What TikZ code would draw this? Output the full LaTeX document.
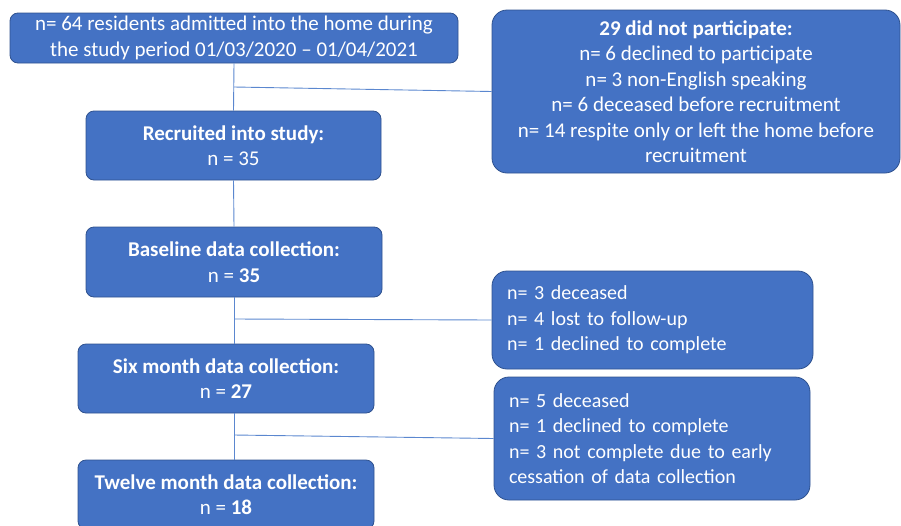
\documentclass[tikz,border=0pt]{standalone}
\usepackage{fontspec}
\setmainfont{Carlito}
\definecolor{boxfill}{HTML}{4472C4}
\definecolor{boxline}{HTML}{2F528F}
\definecolor{conn}{HTML}{5B87CF}
\begin{document}
\begin{tikzpicture}[x=1pt,y=-1pt,
  box/.style={draw=boxline, line width=0.8pt, fill=boxfill, text=white, rounded corners=8pt,
    font=\fontsize{21}{25.5}\selectfont, align=center, inner sep=0pt},
  bigbox/.style={box, rounded corners=15pt},
  lossbox/.style={bigbox, font=\fontsize{20}{25.5}\selectfont, align=left, inner xsep=15pt},
  conline/.style={draw=conn, line width=0.9pt}]
\useasboundingbox (0,0) rectangle (901,525);
\clip (0,0) rectangle (901,525);
\node[box, minimum width=448, minimum height=50] (top) at (234,38)
  {n= 64 residents admitted into the home during\\the study period 01/03/2020 -- 01/04/2021};
\node[bigbox, minimum width=408, minimum height=163] (notp) at (696,91.5)
  {\textbf{29 did not participate:}\\n= 6 declined to participate\\n= 3 non-English speaking\\n= 6 deceased before recruitment\\n= 14 respite only or left the home before\\recruitment};
\node[box, minimum width=295, minimum height=69] (rec) at (233.5,145.5)
  {\textbf{Recruited into study:}\\n = 35};
\node[box, minimum width=296, minimum height=70] (base) at (234,262)
  {\textbf{Baseline data collection:}\\n = \textbf{35}};
\node[box, minimum width=296, minimum height=69] (six) at (226,378.5)
  {\textbf{Six month data collection:}\\n = \textbf{27}};
\node[box, minimum width=296, minimum height=69] (twelve) at (226,494.5)
  {\textbf{Twelve month data collection:}\\n = \textbf{18}};
\node[lossbox, minimum width=321, minimum height=98, text width=291] (lossa) at (652.5,320)
  {n= 3 deceased\\n= 4 lost to follow-up\\n= 1 declined to complete};
\node[lossbox, minimum width=316, minimum height=123, text width=286] (lossb) at (652,438.5)
  {n= 5 deceased\\n= 1 declined to complete\\n= 3 not complete due to early\\cessation of data collection};
\coordinate (b1) at (234,87);
\coordinate (b2) at (234,319);
\coordinate (b3) at (234,435);
\draw[conline] (top.south) -- (rec.north);
\draw[conline] (b1) -- (notp.west);
\draw[conline] (rec.south) -- (base.north);
\draw[conline] (base.south) -- (base.south |- six.north);
\draw[conline] (b2) -- (lossa.west);
\draw[conline] (base.south |- six.south) -- (base.south |- twelve.north);
\draw[conline] (b3) -- (lossb.west);
\end{tikzpicture}
\end{document}
